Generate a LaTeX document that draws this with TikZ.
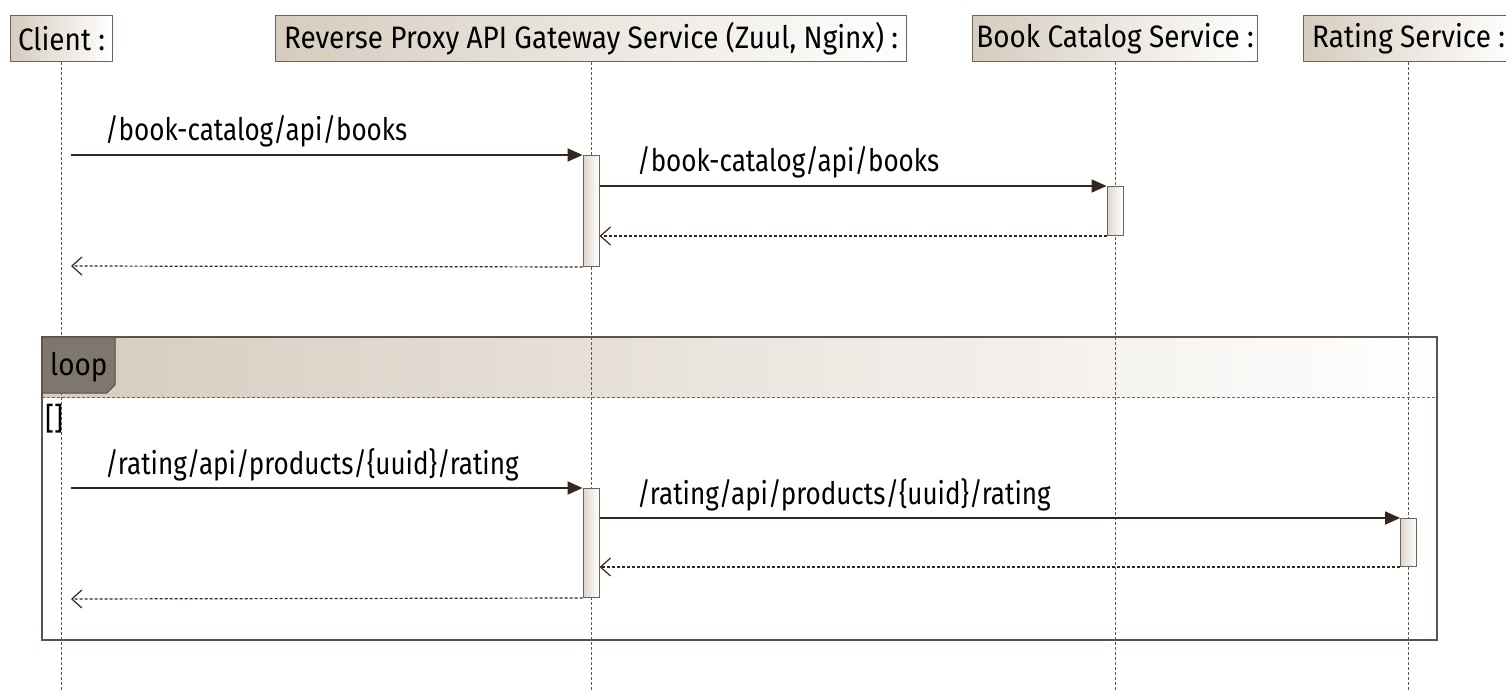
\documentclass[tikz,border=0pt]{standalone}
\usepackage{fontspec}
\setmainfont[FakeStretch=0.9]{Fira Sans}
\newfontfamily\msgfont[FakeStretch=0.84]{Fira Sans}
\usetikzlibrary{arrows.meta}
\definecolor{edge}{HTML}{6E625A}
\definecolor{tan}{HTML}{D6CCBE}
\definecolor{ink}{HTML}{33271F}
\definecolor{life}{HTML}{5F5650}
\definecolor{tab}{HTML}{7F776E}
\tikzset{
  umltext/.style={font=\fontsize{31}{36}\selectfont, text=black},
  header/.style={draw=edge, line width=1.2pt, left color=tan, right color=white,
    inner sep=0pt, anchor=north west, minimum height=46pt, umltext},
  lifeline/.style={draw=life, dash pattern=on 3pt off 2pt, line width=0.8pt},
  act/.style={draw=edge, line width=1pt, left color=tan!80, right color=white,
    inner sep=0pt, minimum width=16pt, anchor=north},
  callmsg/.style={draw=ink, line width=1.4pt, -{Triangle[length=15pt,width=13pt]}},
  replymsg/.style={draw=ink, line width=1.2pt, dash pattern=on 3pt off 2pt,
    -{Straight Barb[length=10pt,width=18pt,line width=1.2pt]}},
  msglabel/.style={font=\msgfont\fontsize{31}{36}\selectfont, text=black,
    anchor=base west, inner sep=0pt},
}
\begin{document}
\begin{tikzpicture}[x=1pt,y=-1pt]
\useasboundingbox (0,0) rectangle (1506,692);

% participants
\node[header, minimum width=102pt] (client) at (10,15) {Client :};
\node[header, minimum width=631pt] (gw) at (275,15) {Reverse Proxy API Gateway Service (Zuul, Nginx) :};
\node[header, minimum width=285pt] (book) at (972,15) {Book Catalog Service :};
\node[header, minimum width=210pt] (rating) at (1303,15) {Rating Service :};

% header band of the loop fragment
\fill[left color=tan, right color=white] (42,337) rectangle (1437,397);

% lifelines
\coordinate (clientend) at (client.south |- 0,692);
\coordinate (gwend) at (gw.south |- 0,692);
\coordinate (bookend) at (book.south |- 0,692);
\coordinate (ratingend) at (rating.south |- 0,692);
\draw[lifeline] (client.south) -- (clientend);
\draw[lifeline] (gw.south) -- (gwend);
\draw[lifeline] (book.south) -- (bookend);
\draw[lifeline] (rating.south) -- (ratingend);

% loop fragment
\draw[edge, line width=1pt, dash pattern=on 3pt off 2pt] (42,397) -- (1437,397);
\draw[edge!85!black, line width=1.6pt] (42,337) rectangle (1437,640);
\fill[tab, draw=edge!80!black, line width=1pt]
  (42,337) -- (115,337) -- (115,385) -- (107,393) -- (42,393) -- cycle;
\node[umltext, anchor=base west, inner sep=0pt] (looplabel) at (50,375) {loop};
\node[umltext, anchor=base west, inner sep=0pt] (guard) at (45,429) {[]};

% first exchange
\node[act, minimum height=111pt] (g1) at (gw.south |- 0,155) {};
\node[act, minimum height=49pt] (b1) at (book.south |- 0,186) {};
\coordinate (c1) at (71,155);
\coordinate (c2) at (71,266);
\draw[callmsg] (c1) -- (g1.north west);
\node[msglabel] (l1) at (105,141) {/book-catalog/api/books};
\draw[callmsg] (g1.east |- b1.north) -- (b1.north west);
\node[msglabel] (l2) at (637,172) {/book-catalog/api/books};
\draw[replymsg] (b1.south west) -- (g1.east |- b1.south);
\draw[replymsg] (g1.south west) -- (c2);

% loop exchange
\node[act, minimum height=109pt] (g2) at (gw.south |- 0,488) {};
\node[act, minimum height=48pt] (r1) at (rating.south |- 0,518) {};
\coordinate (c3) at (71,488);
\coordinate (c4) at (71,599);
\draw[callmsg] (c3) -- (g2.north west);
\node[msglabel] (l3) at (105,474) {/rating/api/products/\{uuid\}/rating};
\draw[callmsg] (g2.east |- r1.north) -- (r1.north west);
\node[msglabel] (l4) at (637,504) {/rating/api/products/\{uuid\}/rating};
\draw[replymsg] (r1.south west) -- (g2.east |- r1.south);
\draw[replymsg] (g2.south west) -- (c4);
\end{tikzpicture}
\end{document}
